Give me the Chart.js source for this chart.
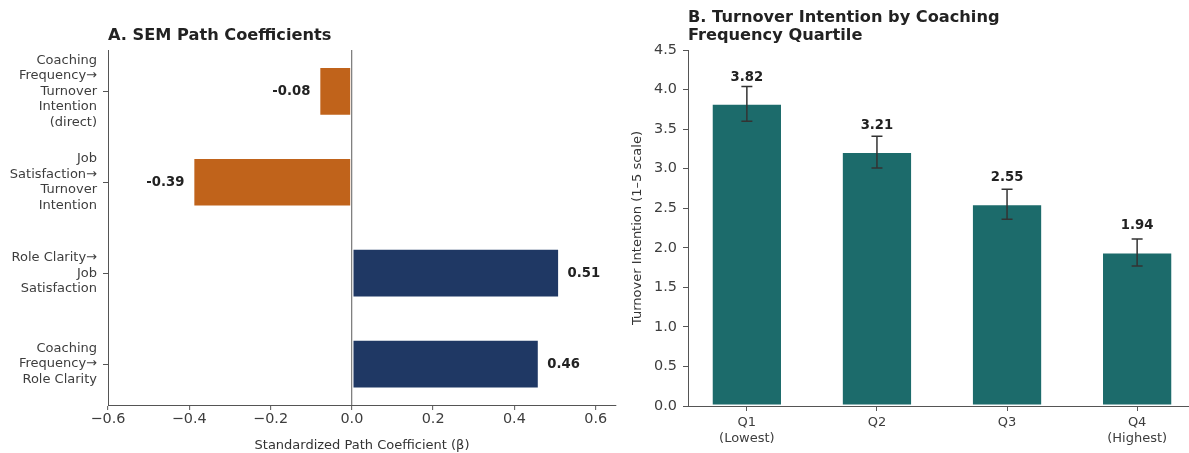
<!DOCTYPE html>
<html>
<head>
<meta charset="utf-8">
<script src="https://cdn.jsdelivr.net/npm/chart.js@4/dist/chart.umd.min.js"></script>
<style>
  html, body { margin: 0; padding: 0; background: #fff; }
  body { width: 1189px; height: 453px; overflow: hidden; position: relative; }
  canvas { position: absolute; top: 0; }
  #pathChart { left: 0; }
  #quartileChart { left: 620px; }
</style>
</head>
<body>
<canvas id="pathChart" width="620" height="453"></canvas>
<canvas id="quartileChart" width="600" height="453"></canvas>

<script>
// ========================== DATA ==========================
// panel A: SEM paths (top to bottom)
const pathLabels = [
  ["Coaching", "Frequency→", "Turnover", "Intention", "(direct)"],
  ["Job", "Satisfaction→", "Turnover", "Intention"],
  ["Role Clarity→", "Job", "Satisfaction"],
  ["Coaching", "Frequency→", "Role Clarity"]
];
const pathCoefs = [-0.08, -0.39, 0.51, 0.46];
const coefTicks = [-0.6, -0.4, -0.2, 0.0, 0.2, 0.4, 0.6];

// panel B: turnover intention by coaching quartile
const quartileLabels = [["Q1", "(Lowest)"], ["Q2"], ["Q3"], ["Q4", "(Highest)"]];
const turnoverMeans = [3.82, 3.21, 2.55, 1.94];
const turnoverErr = [0.22, 0.20, 0.19, 0.17];
const turnoverTicks = [0, 0.5, 1.0, 1.5, 2.0, 2.5, 3.0, 3.5, 4.0, 4.5];

// ========================== STYLE ==========================
const NEG = "#C0631B";
const POS = "#1F3864";
const TEAL = "#1C6B6B";
const AXIS = "#555";
const TICK_TXT = "#3d3d3d";
const FONT = "'DejaVu Sans', sans-serif";

Chart.defaults.font.family = FONT;
Chart.defaults.color = TICK_TXT;

// panel heading, drawn left-aligned at the plot's left spine
const panelTitle = {
  id: "panelTitle",
  afterDraw(chart, args, opts) {
    const ctx = chart.ctx;
    ctx.save();
    ctx.font = "bold 16.2px " + FONT;
    ctx.fillStyle = "#222";
    ctx.textAlign = "left";
    ctx.textBaseline = "middle";
    opts.lines.forEach((t, i) => {
      ctx.fillText(t, chart.chartArea.left + (opts.dx || 0), opts.y + i * opts.lh);
    });
    ctx.restore();
  }
};

// ========================== PANEL A ==========================
const coefLabels = {
  id: "coefLabels",
  afterDatasetsDraw(chart) {
    const { ctx, scales: { x, y } } = chart;
    ctx.save();
    ctx.font = "bold 13.2px " + FONT;
    ctx.fillStyle = "#222";
    ctx.textBaseline = "middle";
    pathCoefs.forEach((v, i) => {
      const px = x.getPixelForValue(v);
      ctx.textAlign = v < 0 ? "right" : "left";
      ctx.fillText(v.toFixed(2), v < 0 ? px - 9 : px + 8.5, y.getPixelForValue(i));
    });
    ctx.restore();
  }
};

new Chart(document.getElementById("pathChart"), {
  type: "bar",
  data: {
    datasets: [{
      data: pathCoefs.map((v, i) => ({ x: v, y: i })),
      backgroundColor: pathCoefs.map(v => v < 0 ? NEG : POS),
      borderColor: "rgba(255,255,255,0.45)",
      borderWidth: 1,
      borderSkipped: false,
      categoryPercentage: 1,
      barPercentage: 0.535
    }]
  },
  options: {
    indexAxis: "y",
    responsive: false,
    animation: false,
    layout: { padding: { left: 0, right: 4, top: 50, bottom: 0 } },
    plugins: {
      legend: { display: false },
      tooltip: { enabled: false },
      panelTitle: { lines: ["A. SEM Path Coefficients"], y: 36, lh: 17 }
    },
    scales: {
      x: {
        type: "linear",
        min: -0.6,
        max: 0.65,
        afterBuildTicks: s => { s.ticks = coefTicks.map(v => ({ value: v })); },
        afterFit: s => { s.height = 48; },
        ticks: {
          autoSkip: false,
          maxRotation: 0,
          padding: 1,
          font: { size: 14.4 },
          color: TICK_TXT,
          callback: v => (v < 0 ? "−" : "") + Math.abs(v).toFixed(1)
        },
        grid: {
          drawOnChartArea: true,
          color: c => (c.tick && c.tick.value === 0) ? "#808080" : "rgba(0,0,0,0)",
          lineWidth: 1.3,
          tickColor: AXIS,
          tickWidth: 1,
          tickLength: 5
        },
        border: { color: AXIS, width: 1 },
        title: {
          display: true,
          text: "Standardized Path Coefficient (β)",
          font: { size: 13 },
          color: "#333",
          padding: { top: 0, bottom: 0 }
        }
      },
      y: {
        type: "linear",
        offset: false,
        min: -0.455,
        max: 3.45,
        reverse: true,
        afterBuildTicks: s => { s.ticks = pathLabels.map((_, i) => ({ value: i })); },
        afterFit: s => { s.width = 108; },
        ticks: {
          autoSkip: false,
          padding: 6,
          font: { size: 13, lineHeight: 1.2 },
          color: TICK_TXT,
          callback: v => pathLabels[v]
        },
        grid: { offset: false, drawOnChartArea: false, color: AXIS, tickLength: 5, lineWidth: 1 },
        border: { color: AXIS, width: 1 }
      }
    }
  },
  plugins: [panelTitle, coefLabels]
});

// ========================== PANEL B ==========================
const errorBars = {
  id: "errorBars",
  afterDatasetsDraw(chart) {
    const { ctx, scales: { x, y } } = chart;
    ctx.save();
    ctx.strokeStyle = "#333";
    ctx.lineWidth = 1.5;
    turnoverMeans.forEach((m, i) => {
      const px = x.getPixelForValue(i);
      const top = y.getPixelForValue(m + turnoverErr[i]);
      const bot = y.getPixelForValue(m - turnoverErr[i]);
      ctx.beginPath();
      ctx.moveTo(px, top); ctx.lineTo(px, bot);
      ctx.moveTo(px - 5.5, top); ctx.lineTo(px + 5.5, top);
      ctx.moveTo(px - 5.5, bot); ctx.lineTo(px + 5.5, bot);
      ctx.stroke();
    });
    // mean labels above each bar
    ctx.font = "bold 13.2px " + FONT;
    ctx.fillStyle = "#222";
    ctx.textAlign = "center";
    ctx.textBaseline = "middle";
    turnoverMeans.forEach((m, i) => {
      ctx.fillText(m.toFixed(2), x.getPixelForValue(i), y.getPixelForValue(m) - 26.5);
    });
    ctx.restore();
  }
};

new Chart(document.getElementById("quartileChart"), {
  type: "bar",
  data: {
    datasets: [{
      data: turnoverMeans.map((v, i) => ({ x: i, y: v })),
      backgroundColor: TEAL,
      borderColor: "rgba(255,255,255,0.45)",
      borderWidth: 1,
      borderSkipped: false,
      categoryPercentage: 1,
      barPercentage: 0.54
    }]
  },
  options: {
    responsive: false,
    animation: false,
    layout: { padding: { left: 0, right: 24, top: 50, bottom: 0 } },
    plugins: {
      legend: { display: false },
      tooltip: { enabled: false },
      panelTitle: { lines: ["B. Turnover Intention by Coaching", "Frequency Quartile"], y: 18, lh: 17.5 }
    },
    scales: {
      x: {
        type: "linear",
        offset: false,
        min: -0.4525,
        max: 3.4525,
        afterBuildTicks: s => { s.ticks = quartileLabels.map((_, i) => ({ value: i })); },
        afterFit: s => { s.height = 47; },
        ticks: {
          autoSkip: false,
          maxRotation: 0,
          padding: 4,
          font: { size: 13, lineHeight: 1.2 },
          color: TICK_TXT,
          callback: v => quartileLabels[v]
        },
        grid: { offset: false, drawOnChartArea: false, color: AXIS, tickLength: 5, lineWidth: 1 },
        border: { color: AXIS, width: 1 }
      },
      y: {
        type: "linear",
        min: 0,
        max: 4.5,
        afterBuildTicks: s => { s.ticks = turnoverTicks.map(v => ({ value: v })); },
        afterFit: s => { s.width = 68; },
        ticks: {
          autoSkip: false,
          padding: 6,
          font: { size: 14.4 },
          color: TICK_TXT,
          callback: v => v.toFixed(1)
        },
        grid: { drawOnChartArea: false, color: AXIS, tickLength: 5, lineWidth: 1 },
        border: { color: AXIS, width: 1 },
        title: {
          display: true,
          text: "Turnover Intention (1–5 scale)",
          font: { size: 13 },
          color: "#333",
          padding: { top: 10, bottom: 0 }
        }
      }
    }
  },
  plugins: [panelTitle, errorBars]
});
</script>
</body>
</html>
